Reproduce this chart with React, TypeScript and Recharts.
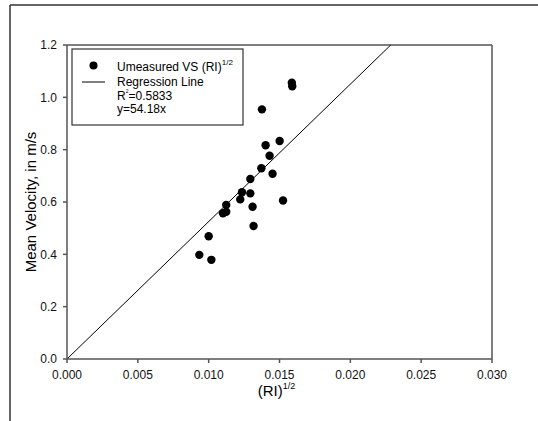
import React from "react";
import { ScatterChart, Scatter, XAxis, YAxis, ReferenceLine } from "recharts";

// Data
const riSqrt = [
  0.01587, 0.0159, 0.01376, 0.01402, 0.01501, 0.0143, 0.01372, 0.01451, 0.01294, 0.01235, 0.01294,
  0.01223, 0.01124, 0.0131, 0.01525, 0.01101, 0.01124, 0.01317, 0.01, 0.00934, 0.01019,
];
const meanVelocity = [
  1.056, 1.042, 0.954, 0.817, 0.833, 0.777, 0.729, 0.708, 0.688, 0.637, 0.633,
  0.61, 0.589, 0.582, 0.606, 0.557, 0.563, 0.508, 0.469, 0.398, 0.379,
];
const xTicks = [0, 0.005, 0.01, 0.015, 0.02, 0.025, 0.03];
const yTicks = [0, 0.2, 0.4, 0.6, 0.8, 1.0, 1.2];
const regressionStart = { x: 0, y: 0 };
const regressionEnd = { x: 0.02285, y: 1.2 };
const legendSeries = "Umeasured VS (RI)";
const legendLine = "Regression Line";
const legendR2 = "=0.5833";
const legendEq = "y=54.18x";

const points = riSqrt.map((x, i) => ({ x, y: meanVelocity[i] }));

const FONT = "'Liberation Sans', Arial, sans-serif";
const AXIS = "#555";

const Dot = (props: any) => {
  const { cx, cy } = props;
  if (cx == null || cy == null) return null;
  return <circle cx={cx} cy={cy} r={4.2} fill="#000" />;
};

const XLabel = (props: any) => {
  const vb = props.viewBox || {};
  const cx = vb.x + vb.width / 2;
  return (
    <text x={cx - 3} y={396} textAnchor="middle" fontFamily={FONT} fontSize={15} fill="#000">
      (RI)
      <tspan fontSize={9} dy={-7}>1/2</tspan>
    </text>
  );
};

const YLabel = (props: any) => {
  const vb = props.viewBox || {};
  const cy = vb.y + vb.height / 2;
  return (
    <text
      x={36}
      y={cy}
      transform={`rotate(-90, 36, ${cy})`}
      textAnchor="middle"
      fontFamily={FONT}
      fontSize={15}
      fill="#000"
    >
      Mean Velocity, in m/s
    </text>
  );
};

export default function App() {
  return (
    <div
      style={{
        position: "absolute",
        left: 0,
        top: 0,
        width: 538,
        height: 421,
        background: "#fff",
        overflow: "hidden",
      }}
    >
      <ScatterChart
        width={538}
        height={421}
        margin={{ top: 45, right: 46, left: 10, bottom: 32 }}
        style={{ position: "absolute", left: 0, top: 0 }}
      >
        <XAxis
          type="number"
          dataKey="x"
          domain={[0, 0.03]}
          ticks={xTicks}
          allowDataOverflow
          height={30}
          tickSize={4}
          tickMargin={7}
          tickFormatter={(v: number) => v.toFixed(3)}
          tick={{ fontFamily: FONT, fontSize: 12, fill: "#111" }}
          axisLine={{ stroke: AXIS, strokeWidth: 1.5 }}
          tickLine={{ stroke: AXIS, strokeWidth: 1.5 }}
          label={<XLabel />}
        />
        <YAxis
          type="number"
          dataKey="y"
          domain={[0, 1.2]}
          ticks={yTicks}
          allowDataOverflow
          width={57}
          tickSize={4}
          tickMargin={6}
          tickFormatter={(v: number) => v.toFixed(1)}
          tick={{ fontFamily: FONT, fontSize: 12, fill: "#111" }}
          axisLine={{ stroke: AXIS, strokeWidth: 1.5 }}
          tickLine={{ stroke: AXIS, strokeWidth: 1.5 }}
          label={<YLabel />}
        />
        <ReferenceLine y={1.2} stroke={AXIS} strokeWidth={1.5} />
        <ReferenceLine x={0.03} stroke={AXIS} strokeWidth={1.5} />
        <ReferenceLine
          segment={[regressionStart, regressionEnd]}
          stroke="#000"
          strokeWidth={1}
        />
        <Scatter data={points} fill="#000" shape={<Dot />} isAnimationActive={false} />
      </ScatterChart>
      <svg
        width={538}
        height={421}
        style={{ position: "absolute", left: 0, top: 0, pointerEvents: "none" }}
      >
        {/* outer frame */}
        <line x1={10} y1={5} x2={538} y2={5} stroke="#333" strokeWidth={1.5} />
        <line x1={10} y1={5} x2={10} y2={421} stroke="#333" strokeWidth={1.5} />
        {/* legend */}
        <rect x={72} y={49} width={171} height={76} fill="#fff" stroke="#333" strokeWidth={1.2} />
        <circle cx={93.5} cy={65.5} r={4} fill="#000" />
        <text x={117} y={70.7} fontFamily={FONT} fontSize={12} fill="#000">
          {legendSeries}
          <tspan fontSize={8} dy={-6}>1/2</tspan>
        </text>
        <line x1={82} y1={82} x2={105} y2={82} stroke="#000" strokeWidth={1} />
        <text x={117} y={85.7} fontFamily={FONT} fontSize={12} fill="#000">
          {legendLine}
        </text>
        <text x={117} y={99.5} fontFamily={FONT} fontSize={12} fill="#000">
          R
          <tspan fontSize={5} dy={-7}>2</tspan>
          <tspan dy={7}>{legendR2}</tspan>
        </text>
        <text x={117} y={113} fontFamily={FONT} fontSize={12} fill="#000">
          {legendEq}
        </text>
      </svg>
    </div>
  );
}
